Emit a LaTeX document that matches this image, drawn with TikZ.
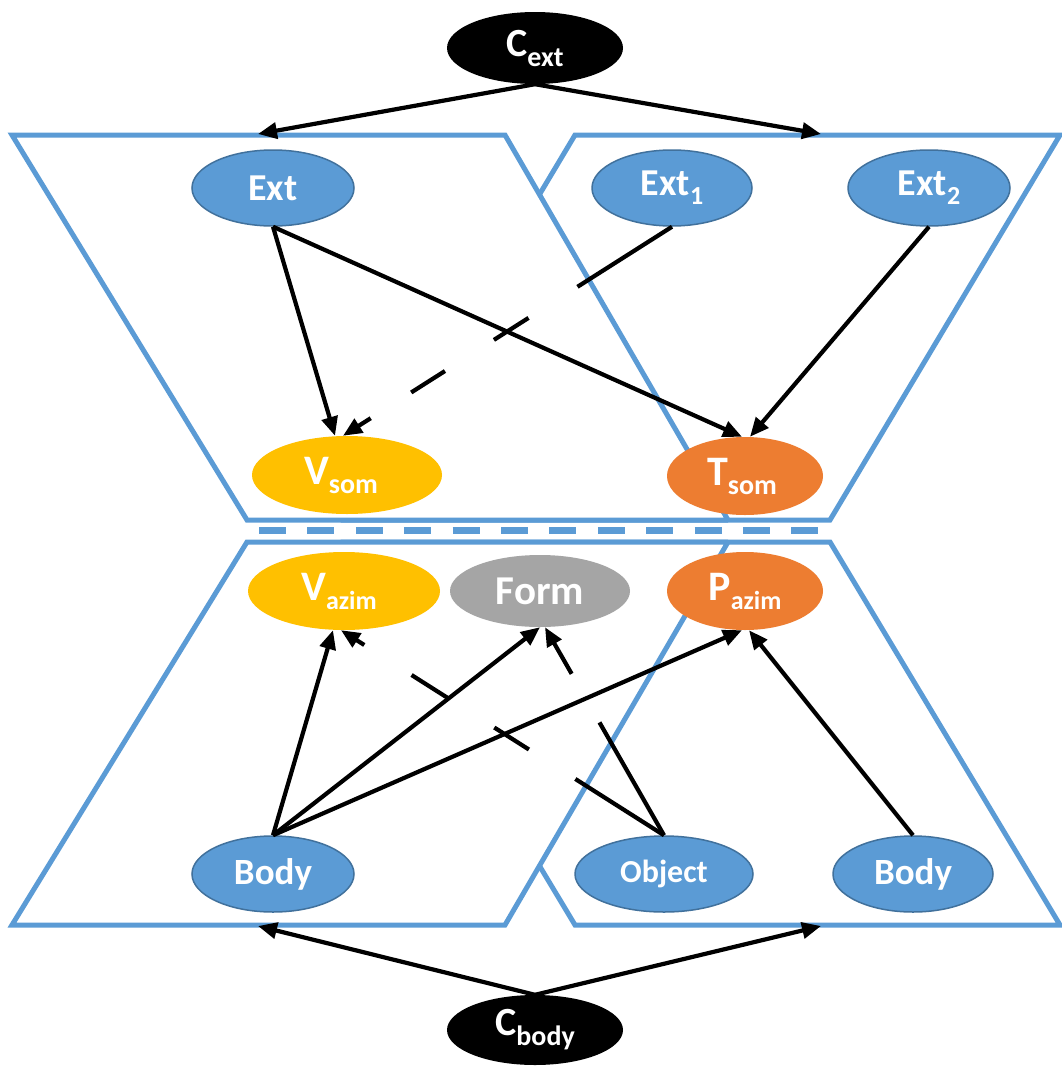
\documentclass[tikz,border=0pt]{standalone}
\usepackage{fontspec}
\setmainfont{Carlito}
\usetikzlibrary{arrows.meta,shapes.geometric}

\definecolor{panelblue}{HTML}{5B9BD5}
\definecolor{nodeblue}{HTML}{5B9BD5}
\definecolor{nodeedge}{HTML}{41719C}
\definecolor{somyellow}{HTML}{FFC000}
\definecolor{somorange}{HTML}{ED7D31}
\definecolor{formgrey}{HTML}{A5A5A5}

% main letter, subscript, main size, subscript size, subscript drop
\newcommand\lbl[5]{{\fontsize{#3}{#3}\selectfont #1}\raisebox{-#5}{\fontsize{#4}{#4}\selectfont #2}}

\begin{document}
\begin{tikzpicture}[x=1pt,y=-1pt,
  panel/.style={draw=panelblue, line width=5pt, fill=white, line join=miter},
  panelrim/.style={draw=panelblue, line width=5pt, line join=miter},
  sepline/.style={draw=panelblue, line width=7pt, dash pattern=on 27pt off 21.4pt},
  var/.style={ellipse, inner sep=0pt, text=white, font=\bfseries},
  bluenode/.style={var, fill=nodeblue, draw=nodeedge, line width=1.5pt, minimum width=162pt, minimum height=76pt},
  rootnode/.style={var, fill=black, minimum width=176pt, minimum height=72pt},
  link/.style={line width=4.2pt, -{Triangle[length=19pt,width=16pt]}}
]
\useasboundingbox (0,0) rectangle (1062,1068);

% upper pair of panels (left panel lies over the right one)
\draw[panel] (575,135) -- (1060,135) -- (830,520) -- (345,520) -- cycle;
\fill[white] (12,135) -- (505,135) -- (728,520) -- (247,520) -- cycle;
\draw[panelrim] (728,520) -- (247,520) -- (12,135) -- (505,135) -- (728,520);
% lower pair of panels
\draw[panel] (345,542) -- (830,542) -- (1060,925) -- (575,925) -- cycle;
\fill[white] (247,542) -- (728,542) -- (505,925) -- (12,925) -- cycle;
\draw[panelrim] (728,542) -- (247,542) -- (12,925) -- (505,925) -- (728,542);

% dashed separator between the two levels
\coordinate (sepL) at (259,530);
\coordinate (sepR) at (821,530);
\draw[sepline] (sepL) -- (sepR);

% root nodes
\node[rootnode] (cext) at (535,48) {\lbl{C}{ext}{40}{28}{10pt}};
\node[rootnode, minimum height=70pt] (cbody) at (535,1030) {\lbl{C}{body}{40}{28}{10pt}};

% upper level
\node[bluenode] (ext)  at (273,188) {\fontsize{38}{38}\selectfont Ext};
\node[bluenode, minimum width=160pt] (ext1) at (672,188) {\lbl{Ext}{1}{38}{26}{9pt}};
\node[bluenode] (ext2) at (929,188) {\lbl{Ext}{2}{38}{26}{9pt}};
\node[var, fill=somyellow, minimum width=190pt, minimum height=78pt] (vsom) at (347,475) {\lbl{V}{som}{42}{28}{9pt}\kern12pt};
\node[var, fill=somorange, minimum width=156pt, minimum height=78pt] (tsom) at (745,476) {\lbl{T}{som}{42}{28}{9pt}\kern6pt};

% lower level
\node[var, fill=somyellow, minimum width=192pt, minimum height=78pt] (vazim) at (344,591) {\lbl{V}{azim}{42}{26}{9pt}\kern10pt};
\node[var, fill=formgrey, minimum width=180pt, minimum height=72pt] (form) at (540,591) {\fontsize{41}{41}\selectfont Form};
\node[var, fill=somorange, minimum width=156pt, minimum height=78pt] (pazim) at (745,591) {\lbl{P}{azim}{42}{26}{9pt}};
\node[bluenode] (body1) at (273,874) {\fontsize{37}{37}\selectfont Body};
\node[bluenode, minimum width=178pt] (object) at (664,874) {\fontsize{32}{32}\selectfont Object};
\node[bluenode, minimum width=160pt] (body2) at (913,874) {\fontsize{37}{37}\selectfont Body};

% entry points on the panel edges
\coordinate (inTL) at (258,134);
\coordinate (inTR) at (821,134);
\coordinate (inBL) at (258,926);
\coordinate (inBR) at (821,926);

% root connectors
\draw[link] (cext.south) -- (inTL);
\draw[link] (cext.south) -- (inTR);
\draw[link] (cbody.north) -- (inBL);
\draw[link] (cbody.north) -- (inBR);

% upper level connectors
\draw[link] (ext.south) -- ([xshift=-12pt]vsom.north);
\draw[link] (ext.south) -- ([xshift=-3pt]tsom.north);
\draw[link] (ext2.south) -- ([xshift=5pt]tsom.north);
\draw[link, dash pattern=on 112pt off 58pt on 41pt off 58pt on 40pt off 48pt on 300pt]
  (ext1.south) -- ([xshift=-4pt]vsom.north);

% lower level connectors
\draw[link] (body1.north) -- ([xshift=-11pt]vazim.south);
\draw[link] (body1.north) -- (form.south);
\draw[link] (body1.north) -- ([xshift=-3pt]pazim.south);
\draw[link] (body2.north) -- ([xshift=4pt]pazim.south);
\draw[link, dash pattern=on 105pt off 55pt on 41pt off 55pt on 43pt off 56pt on 300pt]
  (object.north) -- ([xshift=-3pt]vazim.south);
\draw[link, dash pattern=on 130pt off 56pt on 300pt]
  (object.north) -- ([xshift=5pt]form.south);
\end{tikzpicture}
\end{document}
